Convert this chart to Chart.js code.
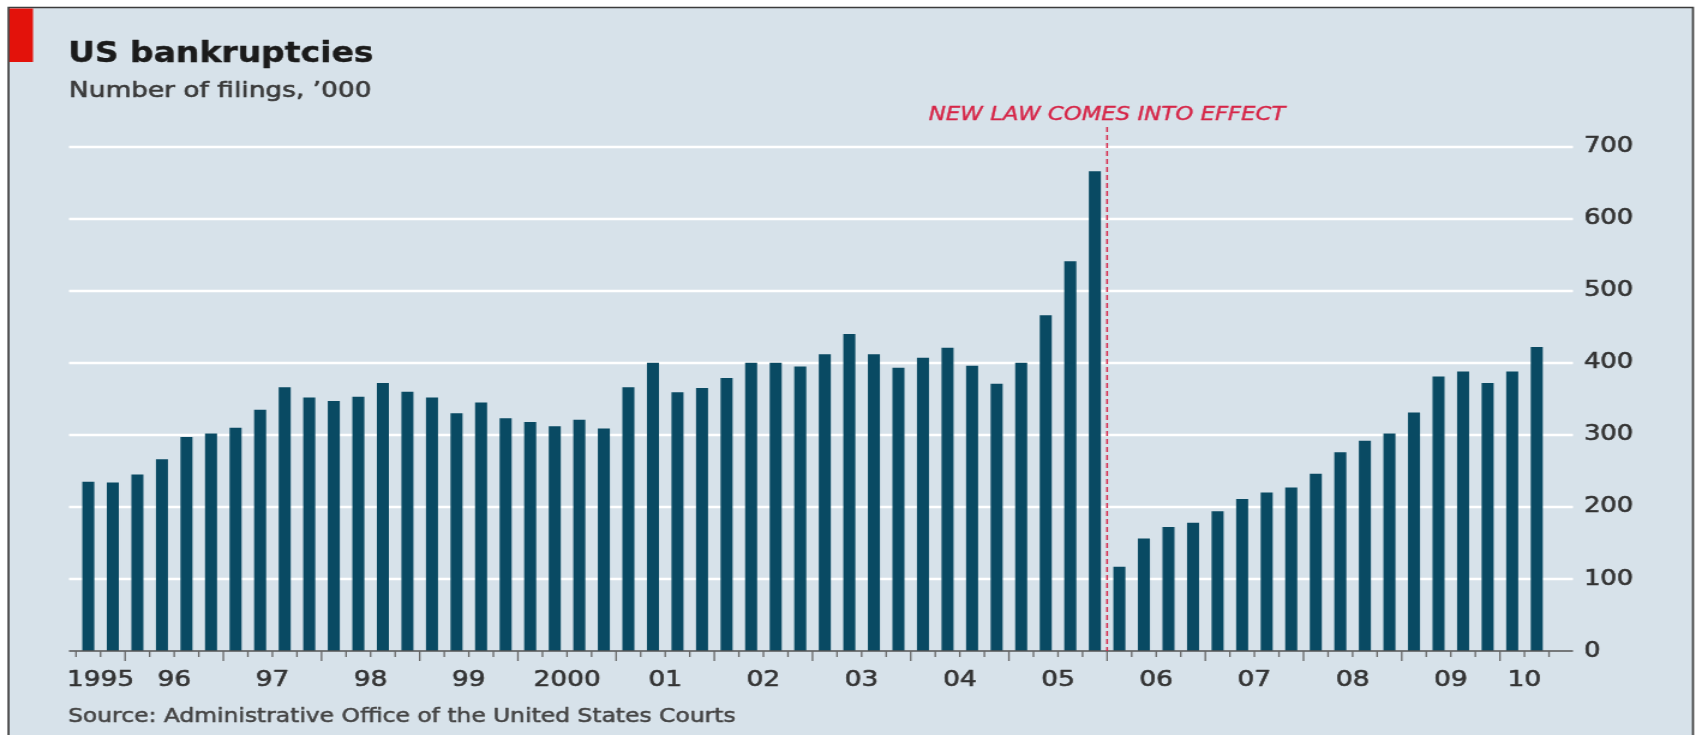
<!DOCTYPE html>
<html><head><meta charset="utf-8">
<script src="https://cdn.jsdelivr.net/npm/chart.js@4.4.1/dist/chart.umd.min.js"></script>
<style>
html,body{margin:0;padding:0;background:#fff;overflow:hidden;width:1696px;height:735px;}
#wrap{position:absolute;left:0;top:0;width:1413px;height:735px;transform:scaleX(1.20028);transform-origin:0 0;}
</style></head><body>
<div id="wrap"><canvas id="c"></canvas></div>
<script>
// ---- data ----
const quarters = [
  '1995Q3','1995Q4',
  '1996Q1','1996Q2','1996Q3','1996Q4',
  '1997Q1','1997Q2','1997Q3','1997Q4',
  '1998Q1','1998Q2','1998Q3','1998Q4',
  '1999Q1','1999Q2','1999Q3','1999Q4',
  '2000Q1','2000Q2','2000Q3','2000Q4',
  '2001Q1','2001Q2','2001Q3','2001Q4',
  '2002Q1','2002Q2','2002Q3','2002Q4',
  '2003Q1','2003Q2','2003Q3','2003Q4',
  '2004Q1','2004Q2','2004Q3','2004Q4',
  '2005Q1','2005Q2','2005Q3','2005Q4',
  '2006Q1','2006Q2','2006Q3','2006Q4',
  '2007Q1','2007Q2','2007Q3','2007Q4',
  '2008Q1','2008Q2','2008Q3','2008Q4',
  '2009Q1','2009Q2','2009Q3','2009Q4',
  '2010Q1','2010Q2'
];
const filings = [
  235, 234,
  245, 266, 297, 302,
  310, 335, 366, 352,
  347, 353, 372, 360,
  352, 330, 345, 323,
  318, 312, 321, 309,
  366, 400, 359, 365,
  379, 400, 400, 395,
  412, 440, 412, 393,
  407, 421, 396, 371,
  400, 466, 541, 666,
  117, 156, 172, 178,
  194, 211, 220, 227,
  246, 276, 292, 302,
  331, 381, 388, 372,
  388, 422
];
const years = ['1995','1996','1997','1998','1999','2000','2001','2002','2003','2004','2005','2006','2007','2008','2009','2010'];
const yearTickLabels = ['1995','96','97','98','99','2000','01','02','03','04','05','06','07','08','09','10'];
const yMin = 0, yMax = 700, yStep = 100;
const titleText = 'US bankruptcies';
const subtitleText = 'Number of filings, \u2019000';
const sourceText = 'Source: Administrative Office of the United States Courts';
const lawLabel = 'NEW LAW COMES INTO EFFECT';
const lawAfterQuarter = '2005Q4';

// ---- styling ----
const S = 1.20028;               // horizontal stretch of the wrapper
const fx = v => v / S;           // page px -> canvas px (horizontal)
const BG = 'rgb(215,226,234)';
const BAR = 'rgb(9,74,99)';
const RED = 'rgb(214,38,72)';
const FONT = '"DejaVu Sans", sans-serif';

function heavyText(ctx, txt, x, y, color, sw) {
  ctx.fillStyle = color;
  ctx.strokeStyle = color;
  ctx.lineWidth = sw;
  ctx.lineJoin = 'round';
  ctx.strokeText(txt, x, y);
  ctx.fillText(txt, x, y);
}

const deco = {
  id: 'deco',
  beforeDraw(chart) {
    const {ctx, width, height} = chart;
    ctx.save();
    ctx.fillStyle = '#fff';
    ctx.fillRect(0, 0, width, height);
    ctx.fillStyle = BG;
    ctx.fillRect(fx(8), 8, fx(1693) - fx(8), height - 8);
    // frame
    ctx.strokeStyle = '#3c3c3c';
    ctx.lineWidth = 1.7;
    ctx.beginPath();
    ctx.moveTo(fx(8.5), height); ctx.lineTo(fx(8.5), 7.5);
    ctx.lineTo(fx(1693), 7.5); ctx.lineTo(fx(1693), height);
    ctx.stroke();
    // red tab
    ctx.fillStyle = '#e3120b';
    ctx.fillRect(fx(9.5), 8.5, fx(33) - fx(9.5), 62 - 8.5);
    // titles
    ctx.textAlign = 'left';
    ctx.textBaseline = 'alphabetic';
    ctx.font = 'bold 27.5px ' + FONT;
    heavyText(ctx, titleText, fx(68), 62, '#1b1b1b', 0.4);
    ctx.font = '22px ' + FONT;
    heavyText(ctx, subtitleText, fx(69), 97, '#3a3a3a', 0.6);
    ctx.font = '19.5px ' + FONT;
    heavyText(ctx, sourceText, fx(68), 722, '#444', 0.5);
    // horizontal gridlines
    const y = chart.scales.y;
    ctx.strokeStyle = '#ffffff';
    ctx.lineWidth = 2.4;
    y.ticks.forEach(t => {
      if (t.value === 0) return;
      const py = Math.round(y.getPixelForValue(t.value));
      ctx.beginPath(); ctx.moveTo(fx(69), py); ctx.lineTo(fx(1573), py); ctx.stroke();
    });
    ctx.restore();
  },
  afterDatasetsDraw(chart) {
    const {ctx} = chart;
    const x = chart.scales.x, y = chart.scales.y;
    const y0 = y.getPixelForValue(0);
    const catW = x.getPixelForValue(1) - x.getPixelForValue(0);
    ctx.save();
    // baseline
    ctx.strokeStyle = '#555';
    ctx.lineWidth = 1.6;
    ctx.beginPath(); ctx.moveTo(fx(69), y0); ctx.lineTo(fx(1573), y0); ctx.stroke();
    // tick marks at quarter boundaries, longer at year boundaries
    ctx.strokeStyle = '#666';
    ctx.lineWidth = 1.3;
    for (let i = 0; i <= quarters.length; i++) {
      const px = x.getPixelForValue(0) + (i - 0.5) * catW;
      const isYear = i < quarters.length && quarters[i].endsWith('Q1');
      ctx.beginPath(); ctx.moveTo(px, y0); ctx.lineTo(px, y0 + (isYear ? 10 : 6)); ctx.stroke();
    }
    // year labels centred under each year's bars
    ctx.font = '22px ' + FONT;
    ctx.textAlign = 'center';
    ctx.textBaseline = 'alphabetic';
    years.forEach((yr, k) => {
      const idx = quarters.map((q, i) => q.startsWith(yr) ? i : -1).filter(i => i >= 0);
      if (!idx.length) return;
      const cx = (x.getPixelForValue(idx[0]) + x.getPixelForValue(idx[idx.length - 1])) / 2;
      heavyText(ctx, yearTickLabels[k], cx, 686, '#333', 0.6);
    });
    // law change marker
    const li = quarters.indexOf(lawAfterQuarter);
    const lx = (x.getPixelForValue(li) + x.getPixelForValue(li + 1)) / 2;
    ctx.strokeStyle = RED;
    ctx.lineWidth = 1.5;
    ctx.setLineDash([5, 3]);
    ctx.beginPath(); ctx.moveTo(lx, 127); ctx.lineTo(lx, y0); ctx.stroke();
    ctx.setLineDash([]);
    ctx.font = 'italic 19px ' + FONT;
    ctx.textAlign = 'center';
    heavyText(ctx, lawLabel, lx, 120, RED, 0.4);
    ctx.restore();
  }
};

new Chart(document.getElementById('c'), {
  type: 'bar',
  data: {
    labels: quarters,
    datasets: [{
      data: filings,
      backgroundColor: BAR,
      borderWidth: 0,
      barPercentage: 0.49,
      categoryPercentage: 1.0
    }]
  },
  options: {
    responsive: true,
    maintainAspectRatio: false,
    animation: false,
    layout: { padding: { left: fx(76), right: 1413 - fx(1549) - 100, top: 146.7, bottom: 0 } },
    plugins: { legend: { display: false }, tooltip: { enabled: false }, title: { display: false } },
    scales: {
      x: {
        type: 'category',
        offset: true,
        grid: { display: false, drawTicks: false },
        border: { display: false },
        ticks: { display: false },
        afterFit: s => { s.height = 735 - 651; }
      },
      y: {
        position: 'right',
        min: yMin, max: yMax,
        grid: { display: false, drawTicks: false },
        border: { display: false },
        ticks: {
          stepSize: yStep,
          padding: fx(1584) - fx(1549),
          color: '#333',
          textStrokeColor: '#333',
          textStrokeWidth: 0.6,
          font: { family: 'DejaVu Sans', size: 21.5 },
          crossAlign: 'near'
        },
        afterFit: s => { s.width = 100; }
      }
    }
  },
  plugins: [deco]
});
</script>
</body></html>
